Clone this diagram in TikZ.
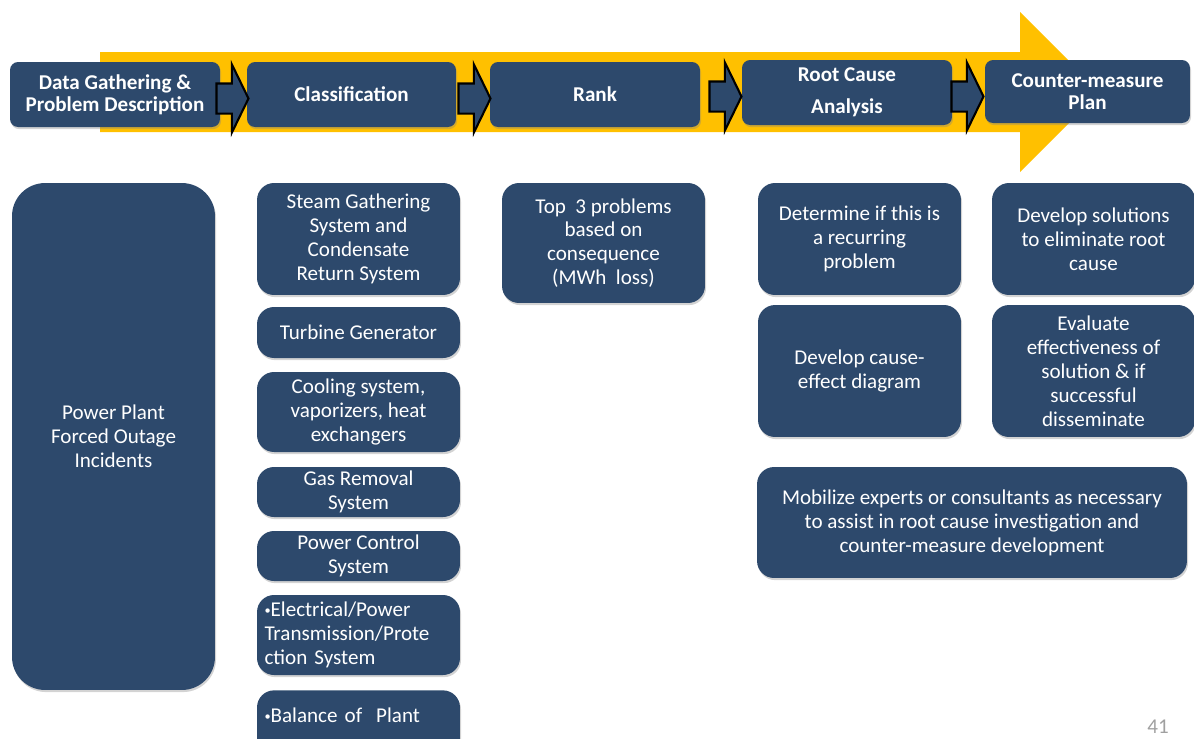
\documentclass[tikz,border=0pt]{standalone}
\usepackage{fontspec}
\setmainfont{Carlito}
\usetikzlibrary{shapes.arrows,shadows,calc,backgrounds}

\definecolor{boxblue}{RGB}{45,73,108}
\definecolor{flowyellow}{RGB}{255,192,0}
\definecolor{pagegray}{RGB}{160,160,160}

\newcommand{\smallbullet}{{\fontsize{7}{7}\selectfont\raisebox{0.4ex}{•}}}

\tikzset{
  stage/.style={fill=boxblue, rounded corners=0.16cm, text=white, align=center,
    font=\bfseries\fontsize{12}{12.5}\selectfont, inner sep=0pt,
    minimum width=4.2cm, minimum height=1.3cm,
    drop shadow={opacity=0.35, shadow xshift=0.6pt, shadow yshift=-1.2pt}},
  task/.style={fill=boxblue, rounded corners=0.34cm, text=white, align=center,
    font=\fontsize{12}{13.6}\selectfont, inner sep=0pt, minimum width=4.06cm,
    drop shadow={opacity=0.35, shadow xshift=0.6pt, shadow yshift=-1.2pt}},
  steparrow/.style={single arrow, fill=boxblue, draw=black, line width=1.2pt,
    inner xsep=0pt, inner ysep=0.28cm, single arrow head extend=0.38cm,
    single arrow tip angle=128, minimum height=0.64cm, anchor=tip}
}

\begin{document}
\begin{tikzpicture}[x=0.02cm, y=-0.02cm]
  \useasboundingbox (0,0) rectangle (1194,738);
  \clip (0,0) rectangle (1194,738);

  % big flow arrow behind the stages
  \fill[flowyellow] (100,52) -- (1020,52) -- (1020,12) -- (1100,92)
    -- (1020,172) -- (1020,132) -- (100,132) -- cycle;

  % stages
  \node[stage] (data) at (115,94.5) {Data Gathering \&\\Problem Description};
  \node[stage, minimum width=4.18cm] (class) at (351.5,94.5) {Classification};
  \node[stage] (rank) at (595,94.5) {Rank};
  \node[stage, font=\bfseries\fontsize{12}{18}\selectfont] (rca) at (847,92.5) {Root Cause\\Analysis};
  \node[stage, minimum width=4.1cm, minimum height=1.26cm] (cmp) at (1087.5,91.5) {Counter-measure\\Plan};

  \node[steparrow] (a1) at ($(class.west)+(3,4)$) {};
  \node[steparrow] (a2) at ($(rank.west)+(2,4)$) {};
  \node[steparrow] (a3) at ($(rca.west)+(1,4)$) {};
  \node[steparrow] (a4) at ($(cmp.west)+(0,5)$) {};

  % data gathering
  \node[task, rounded corners=0.66cm, minimum height=10.14cm] (incidents) at (113.5,436.5)
    {Power Plant\\Forced Outage\\Incidents};

  % classification
  \node[task, minimum height=2.24cm] (steam) at (358.5,239) {Steam Gathering\\System and\\Condensate\\Return System};
  \node[task, minimum height=1.02cm] (turbine) at (358.5,332.5) {Turbine Generator};
  \node[task, minimum height=1.6cm] (cooling) at (358.5,412) {Cooling system,\\vaporizers, heat\\exchangers};
  \node[task, minimum height=1cm] (gas) at (358.5,492) {Gas Removal\\System};
  \node[task, minimum height=1cm] (control) at (358.5,556) {Power Control\\System};
  \node[task, minimum height=1.6cm, text width=3.76cm, align=left] (electrical) at (358.5,635)
    {\smallbullet Electrical/Power\\Transmission/Prote\\ction System};
  \node[task, minimum height=1.4cm, text width=3.76cm, align=left, anchor=north] (balance) at (358.5,690)
    {\raisebox{0.4cm}{\smallbullet Balance of \ Plant}};

  % rank
  \node[task, minimum height=2.4cm] (top3) at (603.5,243) {Top \ 3 problems\\based on\\consequence\\(MWh \ loss)};

  % root cause analysis
  \node[task, minimum height=2.24cm] (recurring) at (859.5,239) {Determine if this is\\a recurring\\problem};
  \node[task, minimum height=2.64cm] (causeeffect) at (859.5,371) {Develop cause-\\effect diagram};

  % counter-measure plan
  \node[task, minimum height=2.24cm] (solutions) at (1093.5,239) {Develop solutions\\to eliminate root\\cause};
  \node[task, minimum height=2.64cm] (evaluate) at (1093.5,371) {Evaluate\\effectiveness of\\solution \& if\\successful\\disseminate};

  \node[task, minimum width=8.6cm, minimum height=2.22cm] (experts) at (972,522.5)
    {Mobilize experts or consultants as necessary\\to assist in root cause investigation and\\counter-measure development};

  \node[text=pagegray, font=\fontsize{12}{14}\selectfont] (pagenum) at (1158,727) {41};
\end{tikzpicture}
\end{document}
